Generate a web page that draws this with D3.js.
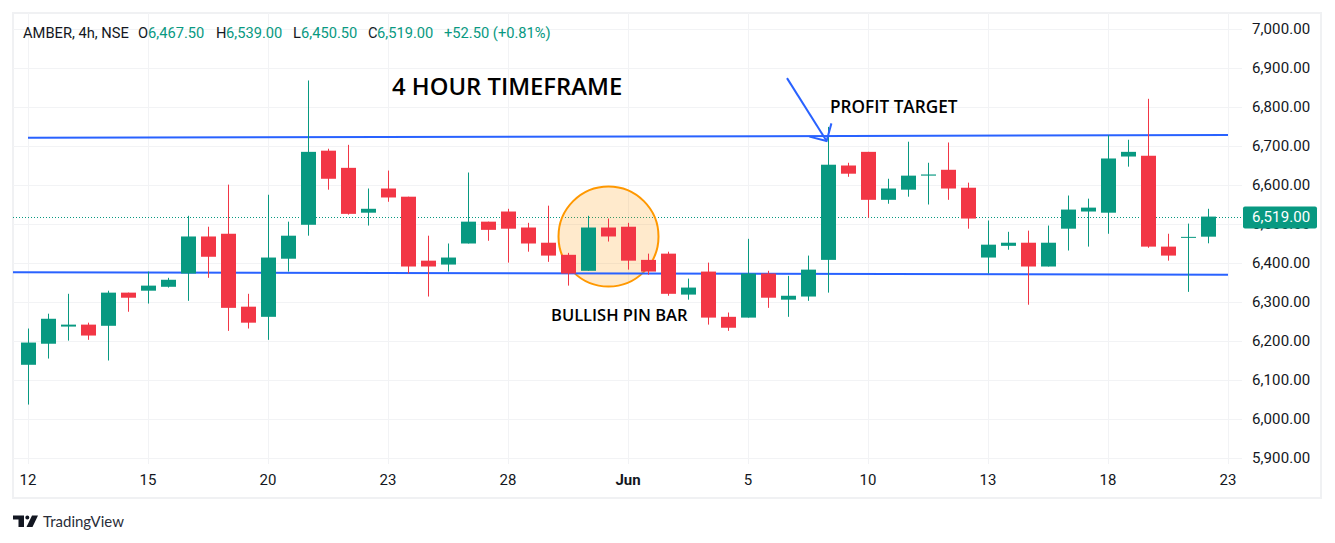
<!DOCTYPE html>
<html>
<head>
<meta charset="utf-8">
<script src="https://cdn.jsdelivr.net/npm/d3@7"></script>
<style>
  html, body { margin: 0; padding: 0; background: #fff; }
  svg { display: block; }
  text { font-family: "Open Sans", sans-serif; }
</style>
</head>
<body>
<svg id="chart" width="1335" height="543"></svg>
<script>
// candle values, one entry per 4h bar
const opens  = [6139,6193,6237,6242,6239,6324,6329,6339,6373,6468,6475,6288,6262,6411,6498,6688,6644,6529,6591,6570,
                6406,6396,6450,6506,6532,6491,6452,6421,6380,6491,6493,6408,6424,6319,6378,6262,6260,6373,6306,6314,
                6408,6650,6685,6562,6588,6624,6639,6593,6414,6444,6452,6391,6488,6532,6529,6673,6675,6442,6465,6467.5]
const highs  = [6232,6270,6321,6247,6329,6324,6378,6362,6521,6493,6601,6321,6575,6506,6868,6693,6703,6591,6637,6570,
                6470,6450,6632,6506,6539,6503,6547,6426,6521,6514,6503,6424,6429,6360,6401,6273,6462,6380,6367,6419,
                6749,6657,6685,6616,6711,6657,6709,6606,6509,6480,6483,6496,6573,6565,6728,6716,6821,6475,6501,6539]
const lows   = [6037,6155,6201,6203,6150,6275,6296,6337,6303,6362,6226,6232,6203,6378,6470,6588,6524,6496,6557,6373,
                6314,6378,6450,6457,6401,6429,6403,6342,6380,6455,6383,6370,6316,6306,6242,6226,6260,6285,6262,6303,
                6324,6621,6516,6552,6570,6550,6562,6488,6373,6434,6293,6391,6432,6442,6475,6647,6439,6406,6326,6450.5]
const closes = [6196,6257,6242,6214,6324,6311,6342,6357,6468,6416,6285,6247,6414,6470,6685,6616,6526,6539,6568,6391,
                6391,6414,6506,6485,6488,6450,6419,6373,6491,6468,6406,6378,6321,6337,6260,6234,6373,6311,6316,6383,
                6652,6629,6562,6591,6624,6627,6591,6514,6447,6452,6391,6452,6537,6542,6668,6685,6442,6419,6467,6519]

const priceTicks = [5900,6000,6100,6200,6300,6400,6500,6600,6700,6800,6900,7000]
const timeIndex  = [0,6,12,18,24,30,36,42,48,54,60]
const timeLabels = ['12','15','20','23','28','Jun','5','10','13','18','23']
const lastPrice = 6519

// drawings, in bar index / price
const upperLine = [[0,6721],[60,6728]]
const lowerLine = [[-0.75,6376],[60,6370]]
const arrowShaft = [[37.95,6874],[39.93,6713]]
const arrowHead = [[39.07,6724],[39.93,6713],[40.17,6758]]
const pinCircle = { idx: 29, price: 6468 }

const green = '#089981'
const red = '#f23645'
const blue = '#2962ff'
const gridColor = '#f2f3f5'
const ink = '#131722'

const svg = d3.select('#chart')

const x = d3.scaleLinear().domain([0, 60]).range([28, 1228])
const y = d3.scaleLinear().domain([5900, 7000]).range([458, 29])

const plotLeft = 13, plotRight = 1242, plotTop = 13, plotBottom = 464

// outer frame
svg.append('rect')
  .attr('x', 13).attr('y', 13)
  .attr('width', 1308).attr('height', 485)
  .attr('fill', 'none')
  .attr('stroke', '#f0f1f3')
  .attr('stroke-width', 2)

// grid
svg.append('g').selectAll('line')
  .data(priceTicks)
  .enter().append('line')
  .attr('x1', plotLeft).attr('x2', plotRight)
  .attr('y1', d => Math.round(y(d)) + 0.5)
  .attr('y2', d => Math.round(y(d)) + 0.5)
  .attr('stroke', gridColor)

svg.append('g').selectAll('line')
  .data(timeIndex)
  .enter().append('line')
  .attr('x1', d => x(d) + 0.5).attr('x2', d => x(d) + 0.5)
  .attr('y1', plotTop).attr('y2', plotBottom)
  .attr('stroke', gridColor)

// last price dotted line
svg.append('line')
  .attr('x1', plotLeft).attr('x2', 1243)
  .attr('y1', Math.round(y(lastPrice)) + 0.5)
  .attr('y2', Math.round(y(lastPrice)) + 0.5)
  .attr('stroke', green)
  .attr('stroke-dasharray', '1 2')

// drawings that sit behind the candles
svg.append('circle')
  .attr('cx', x(pinCircle.idx) + 0.5)
  .attr('cy', y(pinCircle.price))
  .attr('r', 50)
  .attr('fill', 'rgba(255,152,0,0.2)')
  .attr('stroke', '#ff9800')
  .attr('stroke-width', 2)

const lineGen = d3.line().x(d => x(d[0])).y(d => y(d[1]))

svg.append('g').selectAll('path')
  .data([upperLine, lowerLine])
  .enter().append('path')
  .attr('d', lineGen)
  .attr('fill', 'none')
  .attr('stroke', blue)
  .attr('stroke-width', 2)

// candles
const candles = svg.append('g').selectAll('g')
  .data(opens.map((o, i) => ({ i, o, h: highs[i], l: lows[i], c: closes[i] })))
  .enter().append('g')

candles.append('line')
  .attr('x1', d => x(d.i) + 0.5).attr('x2', d => x(d.i) + 0.5)
  .attr('y1', d => y(d.h)).attr('y2', d => y(d.l))
  .attr('stroke', d => d.c >= d.o ? green : red)

candles.append('rect')
  .attr('x', d => x(d.i) - 7)
  .attr('width', 15)
  .attr('y', d => y(Math.max(d.o, d.c)))
  .attr('height', d => Math.max(1, Math.abs(y(d.o) - y(d.c))))
  .attr('fill', d => d.c >= d.o ? green : red)

// arrow goes over the candles
svg.append('g').selectAll('path')
  .data([arrowShaft, arrowHead])
  .enter().append('path')
  .attr('d', lineGen)
  .attr('fill', 'none')
  .attr('stroke', blue)
  .attr('stroke-width', 2)

// axes
const priceAxis = d3.axisRight(y)
  .tickValues(priceTicks)
  .tickFormat(d3.format(',.2f'))
  .tickSize(0)
  .tickPadding(0)

const priceG = svg.append('g')
  .attr('transform', 'translate(1252,-0.4)')
  .call(priceAxis)
priceG.select('.domain').remove()
priceG.selectAll('text')
  .attr('font-size', 15)
  .style('font-family', 'Roboto, sans-serif')
  .style('letter-spacing', '0.1px')
  .attr('fill', ink)

const timeAxis = d3.axisBottom(x)
  .tickValues(timeIndex)
  .tickFormat((d, i) => timeLabels[i])
  .tickSize(0)
  .tickPadding(0)

const timeG = svg.append('g')
  .attr('transform', 'translate(-0.5,474.5)')
  .call(timeAxis)
timeG.select('.domain').remove()
timeG.selectAll('text')
  .attr('font-size', 15)
  .style('font-family', 'Roboto, sans-serif')
  .attr('font-weight', (d, i) => timeLabels[i] === 'Jun' ? 700 : 400)
  .attr('fill', ink)

// last price tag
svg.append('rect')
  .attr('x', 1243).attr('y', y(lastPrice) - 10)
  .attr('width', 74).attr('height', 22)
  .attr('rx', 2)
  .attr('fill', green)
svg.append('text')
  .attr('x', 1252).attr('y', y(lastPrice) + 5.5)
  .attr('font-size', 15)
  .style('font-family', 'Roboto, sans-serif')
  .style('letter-spacing', '0.1px')
  .attr('fill', '#fff')
  .text(d3.format(',.2f')(lastPrice))

// header
const legendParts = [
  ['AMBER, 4h, NSE', ink, 23], ['O', ink, 138], ['6,467.50', green, 148],
  ['H', ink, 216], ['6,539.00', green, 226],
  ['L', ink, 293], ['6,450.50', green, 301],
  ['C', ink, 368], ['6,519.00', green, 377],
  ['+52.50 (+0.81%)', green, 444]
]
svg.append('g').selectAll('text')
  .data(legendParts)
  .enter().append('text')
  .attr('x', d => d[2]).attr('y', 38)
  .attr('font-size', 14.7)
  .style('font-family', 'Roboto, sans-serif')
  .attr('fill', d => d[1])
  .text(d => d[0])

// annotations
svg.append('text')
  .attr('x', 392).attr('y', 95)
  .attr('font-size', 23.8).attr('font-weight', 600)
  .attr('fill', '#000')
  .text('4 HOUR TIMEFRAME')
svg.append('text')
  .attr('x', 830).attr('y', 113)
  .attr('font-size', 17.2).attr('font-weight', 600)
  .attr('fill', '#000')
  .text('PROFIT TARGET')
svg.append('text')
  .attr('x', 551).attr('y', 321)
  .attr('font-size', 16.5).attr('font-weight', 600)
  .attr('fill', '#000')
  .text('BULLISH PIN BAR')

// TradingView mark
svg.append('path')
  .attr('d', 'M13 515.5h11v11.5h-5.5v-7.5h-5.5z M29.3 517.5a2 2 0 1 1 -4 0a2 2 0 1 1 4 0z M32 515.5h6l-5.5 11.5h-6z')
  .attr('fill', ink)
svg.append('text')
  .attr('x', 43).attr('y', 527)
  .attr('font-size', 15)
  .style('font-family', 'Lato, sans-serif')
  .attr('fill', '#2a2e39')
  .text('TradingView')
</script>
</body>
</html>
